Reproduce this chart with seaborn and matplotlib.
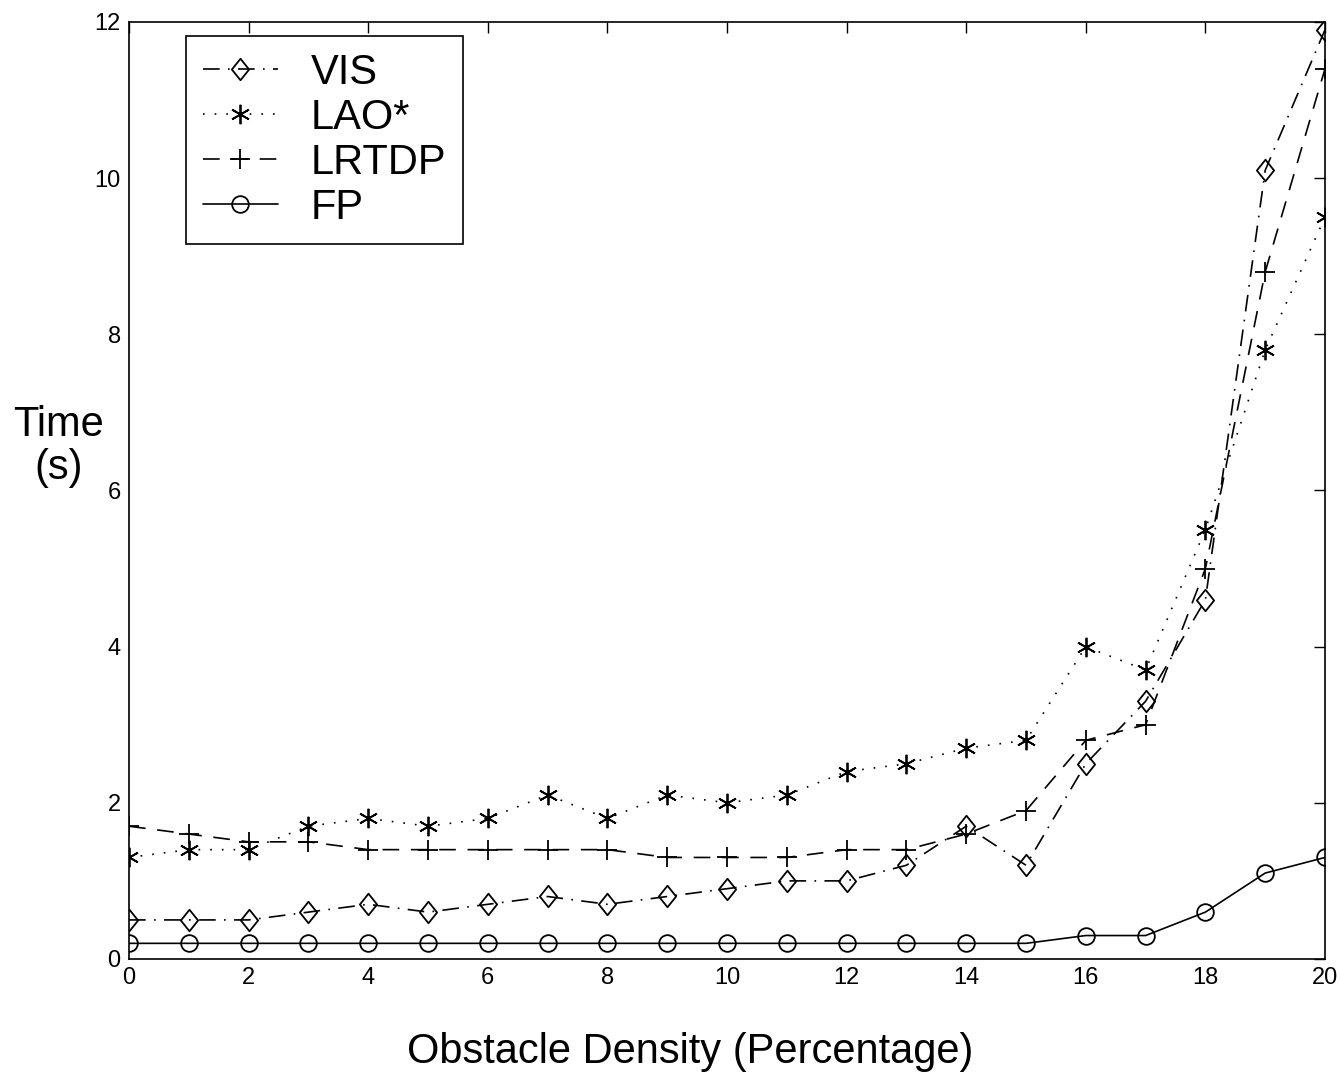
import pandas as pd
import matplotlib
matplotlib.use('Agg')
import matplotlib.pyplot as plt
from matplotlib.path import Path
import seaborn as sns

#data
density = list(range(0, 21))
vis = [0.5, 0.5, 0.5, 0.6, 0.7, 0.6, 0.7, 0.8, 0.7, 0.8, 0.9, 1.0, 1.0, 1.2, 1.7, 1.2, 2.5, 3.3, 4.6, 10.1, 11.9]
lao = [1.3, 1.4, 1.4, 1.7, 1.8, 1.7, 1.8, 2.1, 1.8, 2.1, 2.0, 2.1, 2.4, 2.5, 2.7, 2.8, 4.0, 3.7, 5.5, 7.8, 9.5]
lrtdp = [1.7, 1.6, 1.5, 1.5, 1.4, 1.4, 1.4, 1.4, 1.4, 1.3, 1.3, 1.3, 1.4, 1.4, 1.6, 1.9, 2.8, 3.0, 5.0, 8.8, 11.4]
fp = [0.2, 0.2, 0.2, 0.2, 0.2, 0.2, 0.2, 0.2, 0.2, 0.2, 0.2, 0.2, 0.2, 0.2, 0.2, 0.2, 0.3, 0.3, 0.6, 1.1, 1.3]

names = ['VIS', 'LAO*', 'LRTDP', 'FP']
x_ticks = [0, 2, 4, 6, 8, 10, 12, 14, 16, 18, 20]
y_ticks = [0, 2, 4, 6, 8, 10, 12]

sns.set_style('white')
plt.rcParams['font.family'] = ['Liberation Sans', 'DejaVu Sans']
plt.rcParams['text.color'] = 'black'
plt.rcParams['axes.labelcolor'] = 'black'
plt.rcParams['xtick.color'] = 'black'
plt.rcParams['ytick.color'] = 'black'

#matlab style diamond, a bit taller than wide
diamond = Path([(0, 1), (0.8, 0), (0, -1), (-0.8, 0), (0, 1)],
               [Path.MOVETO, Path.LINETO, Path.LINETO, Path.LINETO, Path.CLOSEPOLY])

fig = plt.figure(figsize=(13.4, 10.88), dpi=100)
ax = fig.add_axes([0.0963, 0.1186, 0.8925, 0.8612])

styles = {
    'VIS': dict(marker=diamond, markersize=15.5, linestyle=(0, (10, 5, 1, 5))),
    'LAO*': dict(marker=(6, 2, 0), markersize=14, linestyle=(0, (1, 6))),
    'LRTDP': dict(marker='+', markersize=15, linestyle=(0, (10, 7))),
    'FP': dict(marker='o', markersize=12, linestyle='-'),
}

for name, vals in zip(names, [vis, lao, lrtdp, fp]):
    df = pd.DataFrame({'density': density, 'time': vals})
    sns.lineplot(data=df, x='density', y='time', ax=ax, color='black',
                 linewidth=1.2, markerfacecolor='none', markeredgecolor='black',
                 markeredgewidth=1.3, label=name, **styles[name])

ax.set_xlim(0, 20)
ax.set_ylim(0, 12)
ax.set_xticks(x_ticks)
ax.set_yticks(y_ticks)
ax.tick_params(direction='in', length=8, width=1, labelsize=17,
               top=True, right=True, pad=6)
for s in ax.spines.values():
    s.set_color('black')
    s.set_linewidth(1.2)

ax.set_xlabel('Obstacle Density (Percentage)', fontsize=30, labelpad=32)
ax.xaxis.set_label_coords(0.469, -0.078)
ax.set_ylabel('Time\n(s)', fontsize=30, rotation=0, va='center', ha='center',
              linespacing=1.1)
ax.yaxis.set_label_coords(-0.059, 0.547)

leg = ax.legend(loc='upper left', bbox_to_anchor=(0.0477, 0.985), fontsize=30,
                handlelength=1.8, handletextpad=0.8, labelspacing=0.12,
                borderpad=0.4, borderaxespad=0, fancybox=False,
                edgecolor='black', framealpha=1)
leg.get_frame().set_linewidth(1.2)

fig.savefig('out.png', dpi=100)
